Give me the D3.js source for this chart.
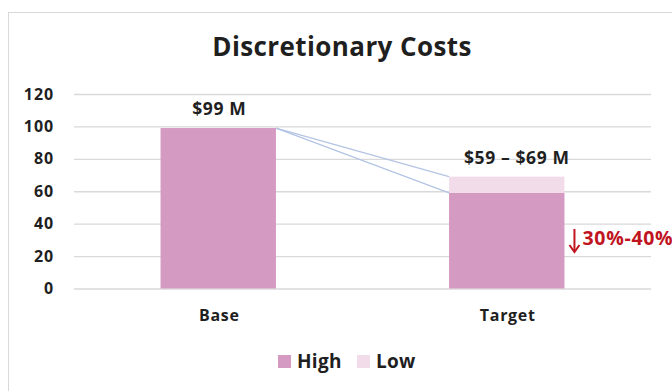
<!DOCTYPE html>
<html>
<head>
<meta charset="utf-8">
<script src="https://cdn.jsdelivr.net/npm/d3@7"></script>
<style>
  html, body { margin: 0; padding: 0; background: #fff; }
  svg { display: block; font-family: "Open Sans", "Noto Sans", sans-serif; }
</style>
</head>
<body>
<svg id="chart" width="672" height="391"></svg>
<script>
// Discretionary costs: base vs. target range
const categories = ["Base", "Target"];
const highValues = [99, 59];
const lowValues = [0, 10];          // added on top of High (Target range 59–69)
const valueLabels = ["$99 M", "$59 – $69 M"];
const yTicks = [0, 20, 40, 60, 80, 100, 120];
const seriesNames = ["High", "Low"];
const reductionLabel = "30%-40%";

const colors = { High: "#d49ac2", Low: "#f2dcea" };
const FONT = "'Open Sans', 'Noto Sans', sans-serif";
const INK = "#1f1f1f";

const svg = d3.select("#chart");
const W = 672, H = 391;

// frame
svg.append("rect")
  .attr("x", 8.5).attr("y", 12.5)
  .attr("width", W + 20).attr("height", H + 20)
  .attr("fill", "#fff").attr("stroke", "#d9d9d9").attr("stroke-width", 1);

const plot = { left: 74, right: 651, top: 94, bottom: 288.5 };

const x = d3.scaleBand()
  .domain(categories)
  .range([plot.left, plot.right])
  .paddingInner(0.6)
  .paddingOuter(0.3);

const y = d3.scaleLinear()
  .domain([0, 120])
  .range([plot.bottom, plot.top]);

// title
svg.append("text")
  .attr("x", 342).attr("y", 56)
  .attr("text-anchor", "middle")
  .attr("font-size", 26).attr("font-weight", 700)
  .attr("letter-spacing", 0.4)
  .attr("fill", INK)
  .text("Discretionary Costs");

// gridlines + y labels
const yAxis = d3.axisLeft(y).tickValues(yTicks)
  .tickSize(-(plot.right - plot.left)).tickPadding(20);
const ya = svg.append("g")
  .attr("transform", `translate(${plot.left},0)`)
  .call(yAxis);
ya.select(".domain").remove();
ya.selectAll(".tick line").attr("stroke", "#d9d9d9").attr("stroke-width", 1.3);
ya.selectAll(".tick text")
  .attr("font-size", 16).attr("font-weight", 700)
  .attr("letter-spacing", 0.9)
  .attr("fill", INK).attr("font-family", FONT);

// stacked bars
const stackData = categories.map((c, i) => ({ cat: c, High: highValues[i], Low: lowValues[i] }));
const stacked = d3.stack().keys(seriesNames)(stackData);

svg.append("g").selectAll("g")
  .data(stacked).join("g")
  .attr("fill", d => colors[d.key])
  .selectAll("rect")
  .data(d => d.filter(s => s[1] > s[0]))
  .join("rect")
  .attr("x", d => x(d.data.cat))
  .attr("width", x.bandwidth())
  .attr("y", d => y(d[1]))
  .attr("height", d => y(d[0]) - y(d[1]));

// connector lines from base top to target range
const xBaseRight = x("Base") + x.bandwidth();
const xTargetLeft = x("Target");
const connectors = [highValues[1] + lowValues[1], highValues[1]];
svg.append("g").selectAll("line")
  .data(connectors).join("line")
  .attr("x1", xBaseRight).attr("y1", y(highValues[0]))
  .attr("x2", xTargetLeft).attr("y2", d => y(d))
  .attr("stroke", "#b4c4e4").attr("stroke-width", 1.3);

// value labels (the range label sits a little right of the bar centre)
const labelShift = [1, 10];
svg.append("g").selectAll("text")
  .data(categories).join("text")
  .attr("x", (d, i) => x(d) + x.bandwidth() / 2 + labelShift[i])
  .attr("y", (d, i) => y(highValues[i] + lowValues[i]) - 13)
  .attr("text-anchor", "middle")
  .attr("font-size", 17.5).attr("font-weight", 700)
  .attr("letter-spacing", 0.6)
  .attr("fill", INK)
  .text((d, i) => valueLabels[i]);

// category labels
svg.append("g").selectAll("text")
  .data(categories).join("text")
  .attr("x", d => x(d) + x.bandwidth() / 2 + 1)
  .attr("y", 321)
  .attr("text-anchor", "middle")
  .attr("font-size", 16).attr("font-weight", 700)
  .attr("letter-spacing", 0.7)
  .attr("fill", INK)
  .text(d => d);

// reduction annotation
const ax = x("Target") + x.bandwidth() + 10;
const annot = svg.append("g").attr("fill", "#c0151f").attr("stroke", "#c0151f");
annot.append("line")
  .attr("x1", ax).attr("x2", ax)
  .attr("y1", 229).attr("y2", 251)
  .attr("stroke-width", 2);
annot.append("path")
  .attr("d", `M${ax - 5},${245} L${ax},${252} L${ax + 5},${245}`)
  .attr("fill", "none").attr("stroke-width", 2);
annot.append("text")
  .attr("x", ax + 8).attr("y", 245)
  .attr("stroke", "none")
  .attr("font-size", 19.5).attr("font-weight", 700)
  .attr("letter-spacing", 0.7)
  .text(reductionLabel);

// legend
const legend = svg.append("g");
const legendItems = [
  { name: "High", x: 278 },
  { name: "Low", x: 357 }
];
legendItems.forEach(it => {
  legend.append("rect")
    .attr("x", it.x).attr("y", 355)
    .attr("width", 13).attr("height", 13)
    .attr("fill", colors[it.name]);
  legend.append("text")
    .attr("x", it.x + 19).attr("y", 368)
    .attr("font-size", 19).attr("font-weight", 700)
    .attr("letter-spacing", 0.3)
    .attr("fill", INK)
    .text(it.name);
});
</script>
</body>
</html>
